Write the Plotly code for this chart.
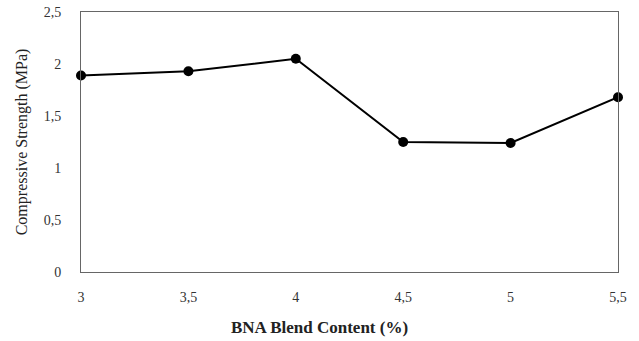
import plotly.graph_objects as go

bna_content = [3, 3.5, 4, 4.5, 5, 5.5]
strength = [1.89, 1.93, 2.05, 1.25, 1.24, 1.68]

x_tick_vals = [3, 3.5, 4, 4.5, 5, 5.5]
x_tick_text = ["3", "3,5", "4", "4,5", "5", "5,5"]
y_tick_vals = [0, 0.5, 1, 1.5, 2, 2.5]
y_tick_text = ["0", "0,5", "1", "1,5", "2", "2,5"]

fig = go.Figure()
fig.add_trace(go.Scatter(
    x=bna_content, y=strength, mode="lines+markers",
    line=dict(color="black", width=2),
    marker=dict(color="black", size=10),
    showlegend=False,
    cliponaxis=False,
))

font_family = "Liberation Serif, Times New Roman, serif"
fig.update_layout(
    width=639, height=341,
    margin=dict(l=81, r=21, t=12, b=69),
    paper_bgcolor="white", plot_bgcolor="white",
    font=dict(family=font_family, color="#333333", size=14),
    xaxis=dict(
        range=[3, 5.5], tickvals=x_tick_vals, ticktext=x_tick_text,
        showgrid=False, zeroline=False, automargin=False,
        showline=True, mirror=True, linecolor="#666666", linewidth=1,
        ticks="", ticklabelstandoff=12,
    ),
    yaxis=dict(
        range=[0, 2.5], tickvals=y_tick_vals, ticktext=y_tick_text,
        showgrid=False, zeroline=False, automargin=False,
        showline=True, mirror=True, linecolor="#666666", linewidth=1,
        ticks="", ticklabelstandoff=16,
        title=dict(text="Compressive Strength (MPa)",
                   font=dict(family=font_family, size=16, color="#222222"),
                   standoff=12),
    ),
    annotations=[dict(
        text="<b>BNA Blend Content (%)</b>",
        xref="paper", yref="paper", x=0.445, y=-0.212,
        xanchor="center", yanchor="middle", showarrow=False,
        font=dict(family=font_family, size=17, color="#222222"),
    )],
)

fig.write_html("out.html")
